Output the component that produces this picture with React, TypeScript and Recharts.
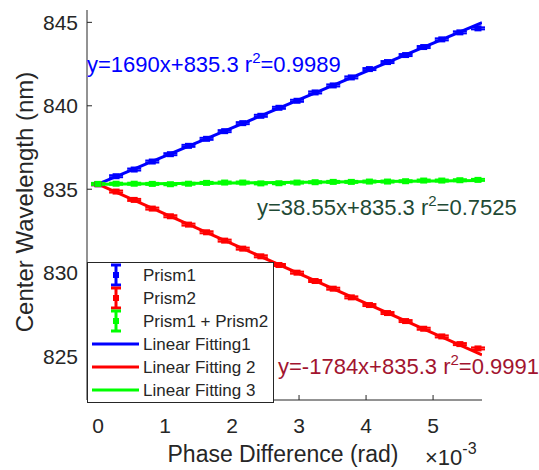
import React from "react";
import { ComposedChart, Scatter, Line, XAxis, YAxis, ErrorBar } from "recharts";

// phase difference, in units of 1e-3 rad
const phase = [0, 0.27, 0.54, 0.81, 1.08, 1.35, 1.62, 1.89, 2.16, 2.43, 2.7, 2.97, 3.24, 3.51, 3.78, 4.05, 4.32, 4.59, 4.86, 5.13, 5.4, 5.67];
const prism1 = [835.3, 835.78, 836.18, 836.66, 837.1, 837.6, 838.02, 838.48, 838.96, 839.4, 839.88, 840.3, 840.8, 841.22, 841.7, 842.2, 842.62, 843.04, 843.52, 843.98, 844.4, 844.64];
const prism2 = [835.3, 834.86, 834.36, 833.84, 833.38, 832.88, 832.42, 831.92, 831.44, 830.98, 830.46, 830.0, 829.5, 829.04, 828.52, 828.06, 827.58, 827.1, 826.64, 826.18, 825.72, 825.46];
const prism12 = [835.32, 835.33, 835.33, 835.32, 835.3, 835.33, 835.38, 835.4, 835.4, 835.35, 835.36, 835.4, 835.42, 835.44, 835.44, 835.46, 835.46, 835.48, 835.52, 835.52, 835.54, 835.56];
const errs = [0.06, 0.06, 0.06, 0.06, 0.06, 0.06, 0.06, 0.06, 0.06, 0.06, 0.06, 0.06, 0.06, 0.06, 0.06, 0.06, 0.06, 0.06, 0.06, 0.06, 0.06, 0.06];

// fitted lines, evaluated at both ends of the x range
const fitX = [0, 5.73];
const fit1 = [835.3, 844.98];
const fit2 = [835.3, 825.08];
const fit3 = [835.3, 835.52];

const xTicks = [0, 1, 2, 3, 4, 5];
const yTicks = [825, 830, 835, 840, 845];

const W = 539;
const H = 470;
const FONT = "'Liberation Sans', Arial, sans-serif";
const AX = "#262626";

const pts = (ys: number[]) => phase.map((x, i) => ({ x, y: ys[i], err: errs[i] }));
const fit = (ys: number[]) => fitX.map((x, i) => ({ x, y: ys[i] }));

const square = (color: string) => (p: any) => (
  <rect x={p.cx - 3.5} y={p.cy - 3} width={7} height={6} fill={color} />
);

const legendRows = [
  { label: "Prism1", color: "#0000ff", kind: "err" },
  { label: "Prism2", color: "#ff0000", kind: "err" },
  { label: "Prism1 + Prism2", color: "#00ff00", kind: "err" },
  { label: "Linear Fitting1", color: "#0000ff", kind: "line" },
  { label: "Linear Fitting 2", color: "#ff0000", kind: "line" },
  { label: "Linear Fitting 3", color: "#00ff00", kind: "line" },
];

function Eq({ x, y, color, head, r2 }: { x: number; y: number; color: string; head: string; r2: string }) {
  return (
    <text x={x} y={y} fontSize={22} fill={color}>
      {head} r<tspan dy={-9} fontSize={15}>2</tspan><tspan dy={9}>={r2}</tspan>
    </text>
  );
}

function Overlay() {
  return (
    <svg width={W} height={H} style={{ position: "absolute", left: 0, top: 0, pointerEvents: "none" }} fontFamily={FONT}>
      <Eq x={87} y={72} color="#0000ff" head="y=1690x+835.3" r2="0.9989" />
      <Eq x={257} y={215} color="#1f4a35" head="y=38.55x+835.3" r2="0.7525" />
      <Eq x={278} y={374} color="#a2142f" head="y=-1784x+835.3" r2="0.9991" />

      <rect x={87.5} y={262.5} width={186} height={140} fill="#fff" stroke={AX} strokeWidth={1} />
      {legendRows.map((r, i) => {
        const cy = 275 + i * 23;
        return (
          <g key={r.label}>
            {r.kind === "err" ? (
              <g stroke={r.color} strokeWidth={3}>
                <line x1={116} x2={116} y1={cy - 10} y2={cy + 10} />
                <line x1={111} x2={121} y1={cy - 10} y2={cy - 10} />
                <line x1={111} x2={121} y1={cy + 10} y2={cy + 10} />
                <rect x={113} y={cy - 3} width={6} height={6} fill={r.color} strokeWidth={0} />
              </g>
            ) : (
              <line x1={92} x2={139} y1={cy} y2={cy} stroke={r.color} strokeWidth={3} />
            )}
            <text x={143} y={cy + 6} fontSize={17} fill={AX}>{r.label}</text>
          </g>
        );
      })}

      <text x={283} y={462} fontSize={23} fill={AX} textAnchor="middle">Phase Difference (rad)</text>
      <text x={33} y={202} fontSize={24} fill={AX} textAnchor="middle" transform="rotate(-90 33 202)">Center Wavelength (nm)</text>

      <text x={425} y={465} fontSize={22} fill={AX}>
        ×10<tspan dy={-11} fontSize={16}>-3</tspan>
      </text>
    </svg>
  );
}

export default function App() {
  return (
    <div style={{ position: "absolute", left: 0, top: 0, width: W, height: H, background: "#fff", fontFamily: FONT }}>
      <ComposedChart width={W} height={H} margin={{ top: 10, right: 57, bottom: 0, left: 0 }}>
        <XAxis
          xAxisId="b"
          type="number"
          dataKey="x"
          domain={[-0.164, 5.73]}
          ticks={xTicks}
          allowDataOverflow
          height={70}
          tickSize={-5}
          tickMargin={23}
          stroke={AX}
          tick={{ fill: AX, fontSize: 21, fontFamily: FONT }}
        />
        <XAxis xAxisId="t" orientation="top" type="number" dataKey="x" domain={[-0.164, 5.73]} ticks={xTicks} allowDataOverflow height={0} tickSize={-5} tick={false} stroke={AX} />
        <YAxis
          yAxisId="l"
          type="number"
          domain={[822.37, 845.74]}
          ticks={yTicks}
          allowDataOverflow
          width={87}
          tickSize={-5}
          tickMargin={14}
          stroke={AX}
          tick={{ fill: AX, fontSize: 21, fontFamily: FONT }}
        />
        <YAxis yAxisId="r" orientation="right" type="number" domain={[822.37, 845.74]} ticks={yTicks} allowDataOverflow width={0} tickSize={-5} tick={false} stroke={AX} />

        <Line xAxisId="b" yAxisId="l" data={fit(fit1)} dataKey="y" stroke="#0000ff" strokeWidth={3} dot={false} isAnimationActive={false} />
        <Line xAxisId="b" yAxisId="l" data={fit(fit2)} dataKey="y" stroke="#ff0000" strokeWidth={3} dot={false} isAnimationActive={false} />
        <Line xAxisId="b" yAxisId="l" data={fit(fit3)} dataKey="y" stroke="#00ff00" strokeWidth={3} dot={false} isAnimationActive={false} />

        <Scatter xAxisId="b" yAxisId="l" data={pts(prism1)} dataKey="y" shape={square("#0000ff")} isAnimationActive={false}>
          <ErrorBar dataKey="err" direction="y" width={7} strokeWidth={2} stroke="#0000ff" isAnimationActive={false} />
        </Scatter>
        <Scatter xAxisId="b" yAxisId="l" data={pts(prism2)} dataKey="y" shape={square("#ff0000")} isAnimationActive={false}>
          <ErrorBar dataKey="err" direction="y" width={7} strokeWidth={2} stroke="#ff0000" isAnimationActive={false} />
        </Scatter>
        <Scatter xAxisId="b" yAxisId="l" data={pts(prism12)} dataKey="y" shape={square("#00ff00")} isAnimationActive={false}>
          <ErrorBar dataKey="err" direction="y" width={7} strokeWidth={2} stroke="#00ff00" isAnimationActive={false} />
        </Scatter>
      </ComposedChart>
      <Overlay />
    </div>
  );
}
